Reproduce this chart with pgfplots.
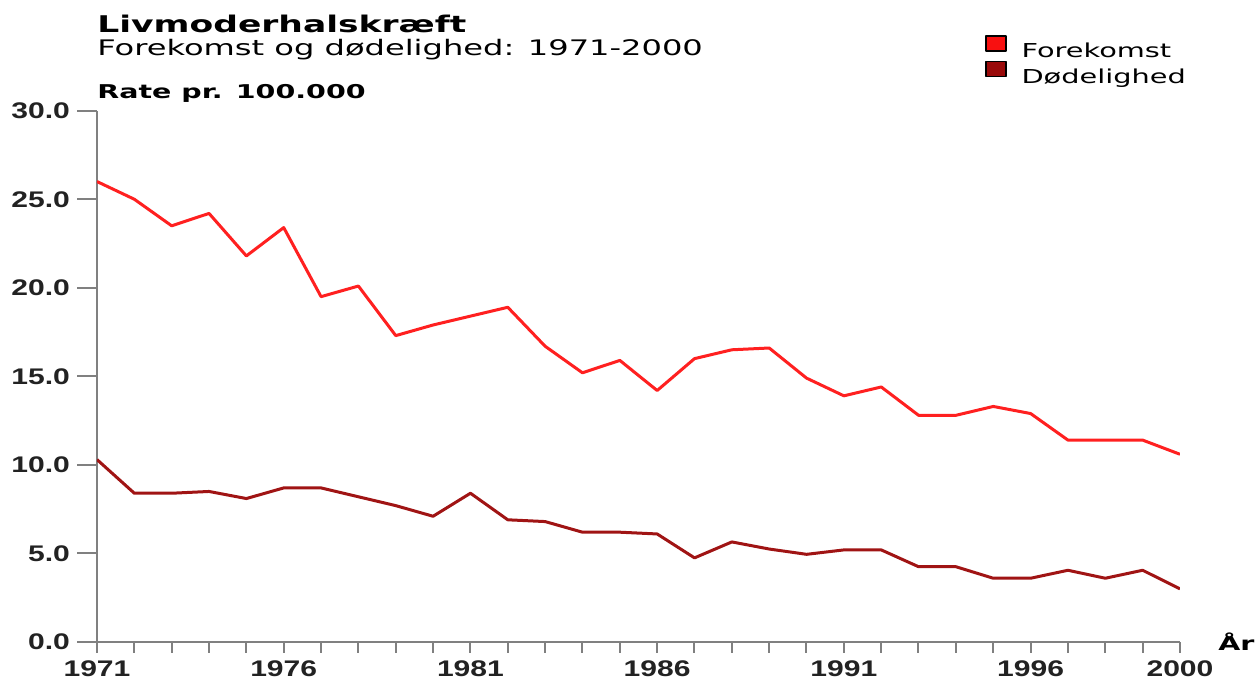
\documentclass[border=0pt]{standalone}
\usepackage{fontspec}
\setmainfont[FakeStretch=1.5]{DejaVu Sans}
\newfontfamily\tickfont[FakeStretch=1.33]{Liberation Sans}
\usepackage{pgfplots}
\pgfplotsset{compat=1.18}
\definecolor{fore}{HTML}{FF2020}
\definecolor{dod}{HTML}{A01414}
\definecolor{forebox}{HTML}{F81010}
\definecolor{dodbox}{HTML}{9A0A0A}
\definecolor{axgray}{HTML}{808080}
\definecolor{ticktext}{HTML}{222222}
\begin{document}
\begin{tikzpicture}
\path[use as bounding box] (0,0) rectangle (630pt,340.5pt);
\node[anchor=base west, inner sep=0] at (48.5pt,324pt) {\fontsize{11.5}{13}\selectfont\bfseries Livmoderhalskræft};
\node[anchor=base west, inner sep=0] at (48.5pt,312.5pt) {\fontsize{10.7}{12}\selectfont Forekomst og dødelighed: 1971-2000};
\node[anchor=base west, inner sep=0] at (48.5pt,291pt) {\fontsize{9.5}{11}\selectfont\bfseries Rate pr. 100.000};
\begin{axis}[
  at={(48.5pt,19.5pt)}, anchor=south west,
  scale only axis, width=541.5pt, height=265.65pt,
  xmin=1971, xmax=2000, ymin=0, ymax=30,
  axis lines=left,
  axis line style={axgray, line width=1pt, -},
  tick style={axgray, line width=1pt},
  tick align=outside,
  major tick length=10pt, minor tick length=5.5pt,
  major x tick style={draw=none},
  xtick={1971,1976,1981,1986,1991,1996,2000},
  minor xtick={1971,...,2000},
  ytick={0,5,...,30},
  /pgf/number format/1000 sep={},
  /pgf/number format/assume math mode=true,
  ticklabel style={font=\tickfont\bfseries\fontsize{11.3}{13}\selectfont, text=ticktext},
  xticklabel style={yshift=4pt},
  yticklabel style={/pgf/number format/.cd, fixed, fixed zerofill, precision=1},
  legend style={draw=none, fill=none, at={(0.8199,1.1424)}, anchor=north west,
    inner sep=0pt, column sep=7.5pt, row sep=1.2pt,
    nodes={inner sep=0pt, text height=7pt, text depth=0.5pt, font=\fontsize{9.6}{11}\selectfont}},
  legend cell align=left,
]
\addplot[fore, line width=1.5pt, line join=round,
  legend image code/.code={\draw[black,line width=0.6pt,fill=forebox] (0pt,0pt) rectangle (10pt,7.5pt);}]
  coordinates {(1971,26.0)(1972,25.0)(1973,23.5)(1974,24.2)(1975,21.8)(1976,23.4)(1977,19.5)(1978,20.1)(1979,17.3)(1980,17.9)(1981,18.4)(1982,18.9)(1983,16.7)(1984,15.2)(1985,15.9)(1986,14.2)(1987,16.0)(1988,16.5)(1989,16.6)(1990,14.9)(1991,13.9)(1992,14.4)(1993,12.8)(1994,12.8)(1995,13.3)(1996,12.9)(1997,11.4)(1998,11.4)(1999,11.4)(2000,10.6)};
\addlegendentry{Forekomst}
\addplot[dod, line width=1.5pt, line join=round,
  legend image code/.code={\draw[black,line width=0.6pt,fill=dodbox] (0pt,0pt) rectangle (10pt,7.5pt);}]
  coordinates {(1971,10.3)(1972,8.4)(1973,8.4)(1974,8.5)(1975,8.1)(1976,8.7)(1977,8.7)(1978,8.2)(1979,7.7)(1980,7.1)(1981,8.4)(1982,6.9)(1983,6.8)(1984,6.2)(1985,6.2)(1986,6.1)(1987,4.75)(1988,5.65)(1989,5.25)(1990,4.95)(1991,5.2)(1992,5.2)(1993,4.25)(1994,4.25)(1995,3.6)(1996,3.6)(1997,4.05)(1998,3.6)(1999,4.05)(2000,3.0)};
\addlegendentry{Dødelighed}
\end{axis}
\node[anchor=base west, inner sep=0] at (609pt,15.5pt) {\fontsize{9.5}{11}\selectfont\bfseries År};
\end{tikzpicture}
\end{document}
